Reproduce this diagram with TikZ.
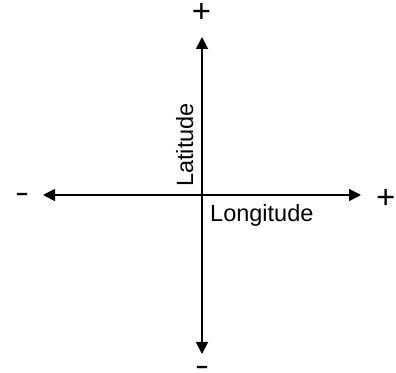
\documentclass[tikz,border=0pt]{standalone}
\usepackage{fontspec}
\setmainfont{Liberation Sans}
\usetikzlibrary{arrows.meta}
\begin{document}
\begin{tikzpicture}[x=1pt,y=1pt,
  axis/.style={line width=1.8pt,-{Triangle[length=12pt,width=12pt]}},
  lbl/.style={inner sep=0pt,font=\fontsize{23.5}{28}\selectfont},
  sgn/.style={inner sep=0pt,font=\fontsize{33}{36}\selectfont},
  neg/.style={inner sep=0pt,font=\fontsize{30}{34}\selectfont}]
\useasboundingbox (0,0) rectangle (396,372);
\coordinate (O) at (202,177);
\coordinate (top) at (202,335);
\coordinate (bot) at (202,18);
\coordinate (lft) at (43,177);
\coordinate (rgt) at (361,177);
\draw[axis] (O) -- (top);
\draw[axis] (O) -- (bot);
\draw[axis] (O) -- (lft);
\draw[axis] (O) -- (rgt);
\node[sgn,anchor=base] (tp) at (201.5,349.9) {+};
\node[sgn,anchor=base] (rp) at (385.8,163.9) {+};
\node[neg,anchor=base] (lm) at (22,169.9) {\scalebox{1.4}[1]{-}};
\node[neg,anchor=base] (bm) at (202,-3.4) {\scalebox{1.4}[1]{-}};
\node[lbl,anchor=base west,rotate=90] (lat) at (193,185) {Latitude};
\node[lbl,anchor=base west] (lon) at (210,150) {Longitude};
\end{tikzpicture}
\end{document}
